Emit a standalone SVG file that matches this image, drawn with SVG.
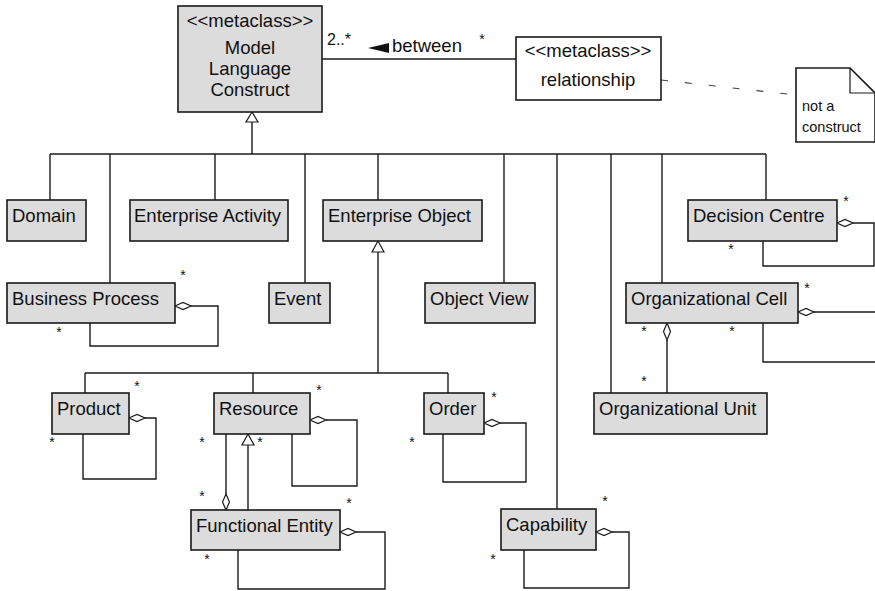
<svg xmlns="http://www.w3.org/2000/svg" width="875" height="591" viewBox="0 0 875 591">
<style>
  .box { fill: #dcdcdc; stroke: #1a1a1a; stroke-width: 1.6; }
  .wbox { fill: #ffffff; stroke: #1a1a1a; stroke-width: 1.6; }
  .t { font-family: "Liberation Sans", Arial, sans-serif; font-size: 18.5px; fill: #111; }
  .c { text-anchor: middle; }
  .nt { font-family: "Liberation Sans", Arial, sans-serif; font-size: 14.5px; fill: #111; }
  .m { font-family: "Liberation Sans", Arial, sans-serif; font-size: 14px; fill: #111; text-anchor: middle; }
  .ln { fill: none; stroke: #1a1a1a; stroke-width: 1.4; }
  .dia { fill: #ffffff; stroke: #1a1a1a; stroke-width: 1.2; }
  .tri { fill: #ffffff; stroke: #1a1a1a; stroke-width: 1.2; }
  .dash { fill: none; stroke: #444; stroke-width: 1.1; stroke-dasharray: 7 17; }
</style>
<rect width="875" height="591" fill="#ffffff"/>

<g id="connectors">
  <!-- association between -->
  <line class="ln" x1="322" y1="59" x2="516" y2="59"/>
  <polygon points="368,48 389,43 389,53" fill="#111"/>
  <text class="t" x="392" y="52">between</text>
  <text class="m" x="327" y="45" style="text-anchor:start;font-size:16px">2..*</text>
  <text class="m" x="482" y="44">*</text>
  <!-- note anchor -->
  <line class="dash" x1="661" y1="80" x2="796" y2="95"/>

  <!-- top generalization tree -->
  <line class="ln" x1="252" y1="122" x2="252" y2="154"/>
  <polygon class="tri" points="252,112 246,122 258,122"/>
  <line class="ln" x1="50" y1="154" x2="766" y2="154"/>
  <line class="ln" x1="50" y1="154" x2="50" y2="200"/>
  <line class="ln" x1="110" y1="154" x2="110" y2="283"/>
  <line class="ln" x1="215" y1="154" x2="215" y2="200"/>
  <line class="ln" x1="305" y1="154" x2="305" y2="283"/>
  <line class="ln" x1="378" y1="154" x2="378" y2="200"/>
  <line class="ln" x1="504" y1="154" x2="504" y2="283"/>
  <line class="ln" x1="557" y1="154" x2="557" y2="509"/>
  <line class="ln" x1="611" y1="154" x2="611" y2="393"/>
  <line class="ln" x1="662" y1="154" x2="662" y2="283"/>
  <line class="ln" x1="766" y1="154" x2="766" y2="200"/>

  <!-- Enterprise Object tree -->
  <polygon class="tri" points="378,241 372,252 384,252"/>
  <line class="ln" x1="378" y1="252" x2="378" y2="373"/>
  <line class="ln" x1="85" y1="373" x2="448" y2="373"/>
  <line class="ln" x1="85" y1="373" x2="85" y2="393"/>
  <line class="ln" x1="253" y1="373" x2="253" y2="393"/>
  <line class="ln" x1="448" y1="373" x2="448" y2="393"/>

  <!-- Business Process self loop -->
  <polyline class="ln" points="191,306 218,306 218,346 90,346 90,323"/>
  <polygon class="dia" points="175,306 183,302.5 191,306 183,309.5"/>
  <text class="m" x="183" y="280">*</text>
  <text class="m" x="59" y="337">*</text>

  <!-- Decision Centre self loop -->
  <polyline class="ln" points="853,223 874,223 874,266 763,266 763,241"/>
  <polygon class="dia" points="837,223 845,219.5 853,223 845,226.5"/>
  <text class="m" x="846" y="206">*</text>
  <text class="m" x="731" y="254">*</text>

  <!-- Organizational Cell self loop (continues off the right edge) -->
  <polyline class="ln" points="814,312 877,312"/>
  <polygon class="dia" points="798,312 806,308.5 814,312 806,315.5"/>
  <polyline class="ln" points="763,323 763,362 877,362"/>
  <text class="m" x="807" y="293">*</text>
  <text class="m" x="644" y="336">*</text>
  <text class="m" x="732" y="336">*</text>

  <!-- Organizational Cell - Organizational Unit -->
  <line class="ln" x1="667" y1="340" x2="667" y2="393"/>
  <polygon class="dia" points="667,323 670.5,331.5 667,340 663.5,331.5"/>
  <text class="m" x="644" y="386">*</text>

  <!-- Product self loop -->
  <polyline class="ln" points="145,418 156,418 156,479 83,479 83,434"/>
  <polygon class="dia" points="129,418 137,414.5 145,418 137,421.5"/>
  <text class="m" x="137" y="391">*</text>
  <text class="m" x="52" y="447">*</text>

  <!-- Resource self loop -->
  <polyline class="ln" points="326,420 357,420 357,486 292,486 292,434"/>
  <polygon class="dia" points="310,420 318,416.5 326,420 318,423.5"/>
  <text class="m" x="319" y="395">*</text>
  <text class="m" x="202" y="447">*</text>

  <!-- Resource - Functional Entity aggregation -->
  <line class="ln" x1="226" y1="434" x2="226" y2="494"/>
  <polygon class="dia" points="226,494 229.5,502 226,510 222.5,502"/>
  <text class="m" x="202" y="501">*</text>
  <text class="m" x="260" y="447">*</text>
  <!-- Functional Entity generalizes to Resource -->
  <line class="ln" x1="248" y1="445" x2="248" y2="510"/>
  <polygon class="tri" points="248,434 242,445 254,445"/>

  <!-- Order self loop -->
  <polyline class="ln" points="500,423 526,423 526,482 443,482 443,434"/>
  <polygon class="dia" points="484,423 492,419.5 500,423 492,426.5"/>
  <text class="m" x="494" y="402">*</text>
  <text class="m" x="412" y="447">*</text>

  <!-- Functional Entity self loop -->
  <polyline class="ln" points="356,532 385,532 385,589 238,589 238,550"/>
  <polygon class="dia" points="340,532 348,528.5 356,532 348,535.5"/>
  <text class="m" x="349" y="508">*</text>
  <text class="m" x="207" y="564">*</text>

  <!-- Capability self loop -->
  <polyline class="ln" points="612,532 629,532 629,588 524,588 524,550"/>
  <polygon class="dia" points="596,532 604,528.5 612,532 604,535.5"/>
  <text class="m" x="605" y="506">*</text>
  <text class="m" x="493" y="564">*</text>
</g>

<g id="model-language-construct">
  <rect class="box" x="178" y="6" width="144" height="106"/>
  <text class="t c" x="250" y="27">&lt;&lt;metaclass&gt;&gt;</text>
  <text class="t c" x="250" y="54">Model</text>
  <text class="t c" x="250" y="75">Language</text>
  <text class="t c" x="250" y="96">Construct</text>
</g>

<g id="relationship">
  <rect class="wbox" x="516" y="37" width="145" height="63"/>
  <text class="t c" x="588" y="57">&lt;&lt;metaclass&gt;&gt;</text>
  <text class="t c" x="588" y="86">relationship</text>
</g>

<g id="note">
  <path class="wbox" d="M796,68 L850,68 L875,93 L875,142 L796,142 Z"/>
  <polyline fill="none" stroke="#1a1a1a" stroke-width="1.2" points="850,68 850,93 875,93"/>
  <text class="nt" x="802" y="111">not a</text>
  <text class="nt" x="802" y="132">construct</text>
</g>

<g id="domain"><rect class="box" x="7" y="200" width="79" height="41"/><text class="t" x="12" y="222">Domain</text></g>
<g id="enterprise-activity"><rect class="box" x="130" y="200" width="158" height="41"/><text class="t" x="134" y="222">Enterprise Activity</text></g>
<g id="enterprise-object"><rect class="box" x="323" y="200" width="159" height="41"/><text class="t" x="328" y="222">Enterprise Object</text></g>
<g id="decision-centre"><rect class="box" x="688" y="200" width="149" height="41"/><text class="t" x="693" y="222">Decision Centre</text></g>

<g id="business-process"><rect class="box" x="7" y="283" width="168" height="40"/><text class="t" x="12" y="305">Business Process</text></g>
<g id="event"><rect class="box" x="269" y="283" width="61" height="40"/><text class="t" x="274" y="305">Event</text></g>
<g id="object-view"><rect class="box" x="425" y="283" width="110" height="40"/><text class="t" x="430" y="305">Object View</text></g>
<g id="organizational-cell"><rect class="box" x="626" y="283" width="172" height="40"/><text class="t" x="631" y="305">Organizational Cell</text></g>

<g id="product"><rect class="box" x="52" y="393" width="77" height="41"/><text class="t" x="57" y="415">Product</text></g>
<g id="resource"><rect class="box" x="214" y="393" width="96" height="41"/><text class="t" x="219" y="415">Resource</text></g>
<g id="order"><rect class="box" x="424" y="393" width="60" height="41"/><text class="t" x="429" y="415">Order</text></g>
<g id="organizational-unit"><rect class="box" x="594" y="393" width="173" height="41"/><text class="t" x="599" y="415">Organizational Unit</text></g>

<g id="functional-entity"><rect class="box" x="191" y="510" width="149" height="40"/><text class="t" x="196" y="532">Functional Entity</text></g>
<g id="capability"><rect class="box" x="501" y="509" width="95" height="41"/><text class="t" x="506" y="531">Capability</text></g>
</svg>
